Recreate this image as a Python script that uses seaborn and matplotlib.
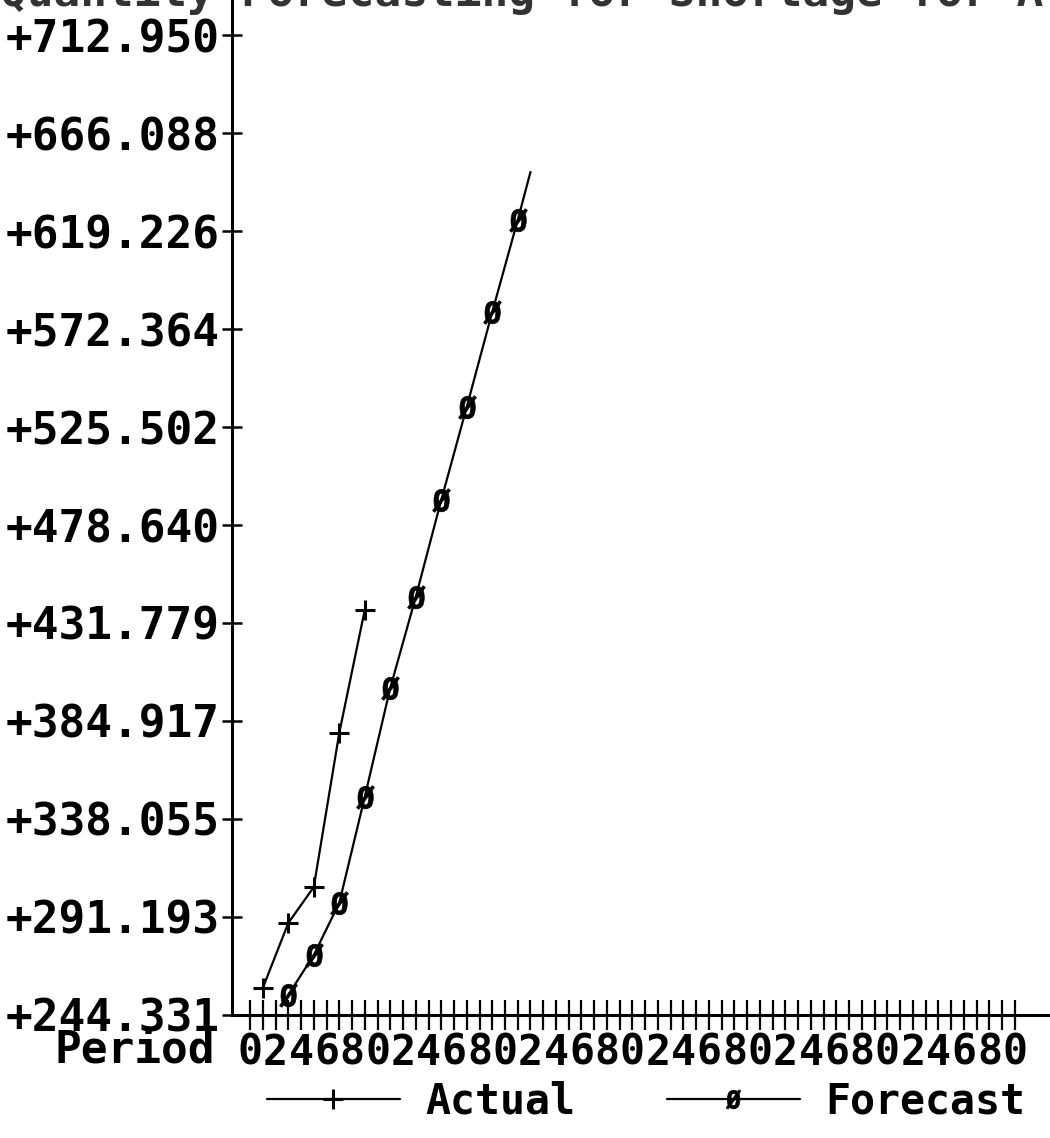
import matplotlib
matplotlib.use("Agg")
import matplotlib.pyplot as plt
import seaborn as sns
from matplotlib.lines import Line2D

# ---- data ----
actual_period = [1, 3, 5, 7, 9]
actual_value = [257.2, 288.3, 305.5, 379.2, 438.0]

forecast_period = [3, 5, 7, 9, 11, 13, 15, 17, 19, 21, 22]
forecast_value = [253.9, 273.0, 297.9, 348.6, 400.7, 444.2, 490.6, 535.1, 580.5, 624.5, 647.5]

ytick_values = [244.331, 291.193, 338.055, 384.917, 431.779, 478.640,
                525.502, 572.364, 619.226, 666.088, 712.950]
ytick_labels = ["+244.331", "+291.193", "+338.055", "+384.917", "+431.779", "+478.640",
                "+525.502", "+572.364", "+619.226", "+666.088", "+712.950"]
x_periods = list(range(0, 61))
x_label_digits = list("0246802468024680246802468024680")

title_text = "Quantity Forecasting for Shortage for A"
series_names = ["Actual", "Forecast"]

# ---- style ----
sns.set_style("white")
plt.rcParams["font.family"] = ["DejaVu Sans Mono"]
plt.rcParams["font.weight"] = "bold"
plt.rcParams["text.color"] = "black"
plt.rcParams["xtick.color"] = "black"
plt.rcParams["ytick.color"] = "black"

fig = plt.figure(figsize=(10.5, 11.38), dpi=100)
ax = fig.add_axes([0.221, 0.1081, 0.779, 0.8919])

fmark = r"$\mathregular{\O}$"

sns.lineplot(x=actual_period, y=actual_value, ax=ax, color="black", lw=1.6,
             marker="+", markersize=15, markeredgewidth=2.2, markeredgecolor="black",
             clip_on=False)
sns.lineplot(x=forecast_period, y=forecast_value, ax=ax, color="black", lw=1.6,
             marker=fmark, markersize=17, markeredgewidth=0.5, markeredgecolor="black",
             markerfacecolor="black",
             markevery=list(range(len(forecast_period) - 1)), clip_on=False)

ax.set_xlim(-1.41, 62.75)
ax.set_ylim(244.331, 729.7)

for s in ["top", "right"]:
    ax.spines[s].set_visible(False)
for s in ["left", "bottom"]:
    ax.spines[s].set_color("black")
    ax.spines[s].set_linewidth(2.2)

ax.set_yticks(ytick_values)
ax.set_yticklabels(ytick_labels, fontsize=32)
xl = []
for i, p in enumerate(x_periods):
    xl.append(x_label_digits[i // 2] if i % 2 == 0 else "")
ax.set_xticks(x_periods)
ax.set_xticklabels(xl, fontsize=30)
ax.tick_params(axis="y", left=True, direction="inout", length=14, width=1.8, pad=2,
               colors="black")
ax.tick_params(axis="x", bottom=True, direction="inout", length=22, width=1.6, pad=1,
               colors="black")
ax.set_xlabel("")
ax.set_ylabel("")
ax.grid(False)

fig.text(215 / 1050, (1138 - 1050) / 1138, "Period", fontsize=32, ha="right", va="center",
         color="black")
fig.text(0.0, 1.007, title_text, fontsize=32, ha="left", va="center", color="#333333")

handles = [
    Line2D([], [], color="black", lw=1.6, marker="+", markersize=15, markeredgewidth=2.2,
           markeredgecolor="black"),
    Line2D([], [], color="black", lw=1.6, marker=fmark, markersize=14, markeredgewidth=0.5,
           markeredgecolor="black", markerfacecolor="black"),
]
leg = fig.legend(handles, series_names, ncol=2, loc="center",
                 bbox_to_anchor=(0.615, (1138 - 1102) / 1138), frameon=False, fontsize=30,
                 handlelength=3.2, handletextpad=0.6, columnspacing=2.2)
for t in leg.get_texts():
    t.set_color("black")

fig.savefig("out.png", dpi=100, facecolor="white")
